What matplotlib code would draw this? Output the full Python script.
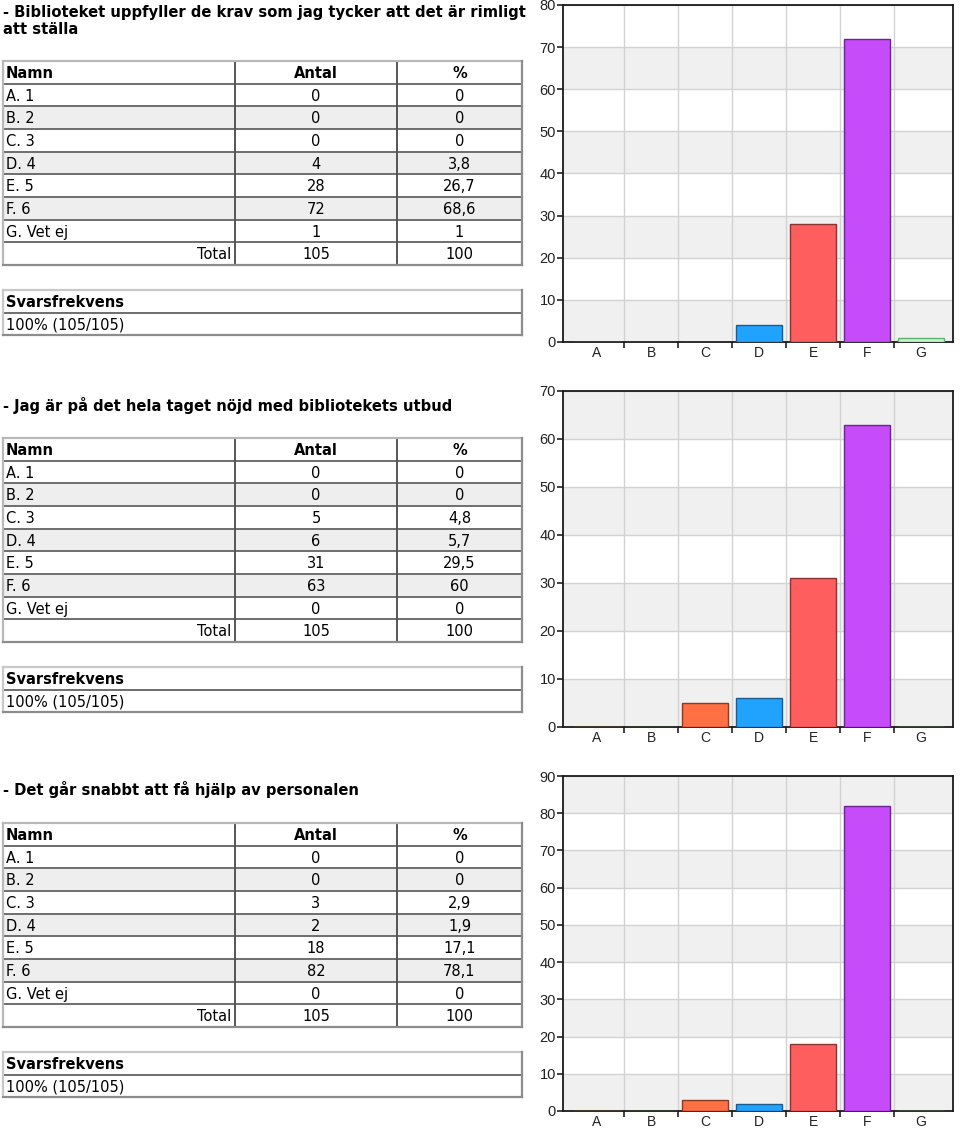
import matplotlib
matplotlib.use("Agg")
import matplotlib.pyplot as plt
from matplotlib.patches import Rectangle

W, H = 960, 1129

names = ["A. 1", "B. 2", "C. 3", "D. 4", "E. 5", "F. 6", "G. Vet ej"]
letters = ["A", "B", "C", "D", "E", "F", "G"]

titles = [
    ["- Biblioteket uppfyller de krav som jag tycker att det är rimligt", "att ställa"],
    ["- Jag är på det hela taget nöjd med bibliotekets utbud"],
    ["- Det går snabbt att få hjälp av personalen"],
]
counts_q1 = [0, 0, 0, 4, 28, 72, 1]
pct_q1 = ["0", "0", "0", "3,8", "26,7", "68,6", "1"]
counts_q2 = [0, 0, 5, 6, 31, 63, 0]
pct_q2 = ["0", "0", "4,8", "5,7", "29,5", "60", "0"]
counts_q3 = [0, 0, 3, 2, 18, 82, 0]
pct_q3 = ["0", "0", "2,9", "1,9", "17,1", "78,1", "0"]
totals = ["105", "105", "105"]
total_pct = ["100", "100", "100"]
ymax = [80, 70, 90]
svar = ["100% (105/105)", "100% (105/105)", "100% (105/105)"]

bar_colors = ["#ffd34f", "#8fd14f", "#ff7044", "#20a2ff", "#ff5e5e", "#c64bf9", "#c3f4cb"]
edge_colors = ["#8a7020", "#4a7a20", "#8a3a20", "#1d5b8c", "#8a3333", "#6a2590", "#5fb56f"]

counts = [counts_q1, counts_q2, counts_q3]
pcts = [pct_q1, pct_q2, pct_q3]

# pixel layout per block (y measured from top)
blocks = [
    dict(title_y=12, table_top=61, ax_top=5, ax_bot=342),
    dict(title_y=405, table_top=438, ax_top=391, ax_bot=727),
    dict(title_y=790, table_top=823, ax_top=776, ax_bot=1111),
]
ROW_H = 22.67
COLS = [3, 235, 397, 522]
AX_L, AX_R = 563, 953

fig = plt.figure(figsize=(W / 100, H / 100), dpi=100)
bg = fig.add_axes([0, 0, 1, 1])
bg.set_xlim(0, W)
bg.set_ylim(H, 0)
bg.axis("off")

FS = 10.5
INNER = "#6e6e6e"


def draw_table(top, cnt, pct, tot, tot_pct):
    rows = [("Namn", "Antal", "%")] + [(n, str(c), p) for n, c, p in zip(names, cnt, pct)]
    rows.append(("Total", tot, tot_pct))
    for i, (a, b, c) in enumerate(rows):
        y0 = top + i * ROW_H
        if i in (2, 4, 6):
            bg.add_patch(Rectangle((COLS[0], y0), COLS[3] - COLS[0], ROW_H,
                                   facecolor="#eeeeee", edgecolor="none"))
        yc = y0 + ROW_H / 2 + 1
        bold = "bold" if i == 0 else "normal"
        if i == len(rows) - 1:
            bg.text(COLS[1] - 4, yc, a, ha="right", va="center", fontsize=FS)
        else:
            bg.text(COLS[0] + 3, yc, a, ha="left", va="center", fontsize=FS, fontweight=bold)
        bg.text((COLS[1] + COLS[2]) / 2, yc, b, ha="center", va="center", fontsize=FS, fontweight=bold)
        bg.text((COLS[2] + COLS[3]) / 2, yc, c, ha="center", va="center", fontsize=FS, fontweight=bold)
        if i > 0:
            bg.plot([COLS[0], COLS[3]], [y0, y0], color=INNER, lw=1.4)
    bot = top + len(rows) * ROW_H
    for x in COLS[1:3]:
        bg.plot([x, x], [top, bot], color="#555555", lw=1.4)
    bg.plot([COLS[0], COLS[3]], [top, top], color="#b8b8b8", lw=1.6)
    bg.plot([COLS[0], COLS[0]], [top, bot], color="#b8b8b8", lw=1.6)
    bg.plot([COLS[3], COLS[3]], [top, bot], color="#8c8c8c", lw=1.6)
    bg.plot([COLS[0], COLS[3]], [bot, bot], color="#8c8c8c", lw=1.6)
    return bot


def draw_svar(top, text):
    for i, (t, w) in enumerate([("Svarsfrekvens", "bold"), (text, "normal")]):
        y0 = top + i * ROW_H
        bg.text(COLS[0] + 3, y0 + ROW_H / 2 + 1, t, ha="left", va="center", fontsize=FS, fontweight=w)
    bot = top + 2 * ROW_H
    bg.plot([COLS[0], COLS[3]], [top + ROW_H, top + ROW_H], color=INNER, lw=1.4)
    bg.plot([COLS[0], COLS[3]], [top, top], color="#c8c8c8", lw=1.6)
    bg.plot([COLS[0], COLS[0]], [top, bot], color="#c8c8c8", lw=1.6)
    bg.plot([COLS[3], COLS[3]], [top, bot], color="#8c8c8c", lw=1.6)
    bg.plot([COLS[0], COLS[3]], [bot, bot], color="#8c8c8c", lw=1.6)


for q, blk in enumerate(blocks):
    for j, line in enumerate(titles[q]):
        bg.text(3, blk["title_y"] + j * 17, line, ha="left", va="center",
                fontsize=10.6, fontweight="bold")
    tbot = draw_table(blk["table_top"], counts[q], pcts[q], totals[q], total_pct[q])
    draw_svar(tbot + 25, svar[q])

    top, bot = blk["ax_top"], blk["ax_bot"]
    ax = fig.add_axes([AX_L / W, 1 - bot / H, (AX_R - AX_L) / W, (bot - top) / H])
    ax.set_xlim(-0.63, 6.59)
    ax.set_ylim(0, ymax[q])
    for k in range(0, ymax[q], 20):
        ax.axhspan(k, k + 10, color="#f0f0f0", lw=0, zorder=0)
    ax.set_yticks(range(0, ymax[q] + 1, 10))
    ax.set_xticks(range(7))
    ax.set_xticklabels(letters)
    ax.set_xticks([i + 0.5 for i in range(6)], minor=True)
    ax.yaxis.grid(True, color="#d2d2d2", lw=1, zorder=1)
    ax.xaxis.grid(True, which="minor", color="#d2d2d2", lw=1, zorder=1)
    ax.set_axisbelow(True)
    ax.bar(range(7), counts[q], width=0.85, color=bar_colors, edgecolor=edge_colors,
           linewidth=1, zorder=3)
    ax.tick_params(axis="y", length=4, width=1.2, pad=1, labelsize=10.5, color="#222222")
    ax.tick_params(axis="x", which="major", length=0, pad=3, labelsize=10)
    ax.tick_params(axis="x", which="minor", length=4, width=1.2, color="#222222")
    for lab in ax.get_xticklabels() + ax.get_yticklabels():
        lab.set_fontfamily("Liberation Sans")
        lab.set_color("#222222")
    for s in ax.spines.values():
        s.set_color("#1a1a1a")
        s.set_linewidth(1.3)

fig.savefig("out.png", dpi=100)
